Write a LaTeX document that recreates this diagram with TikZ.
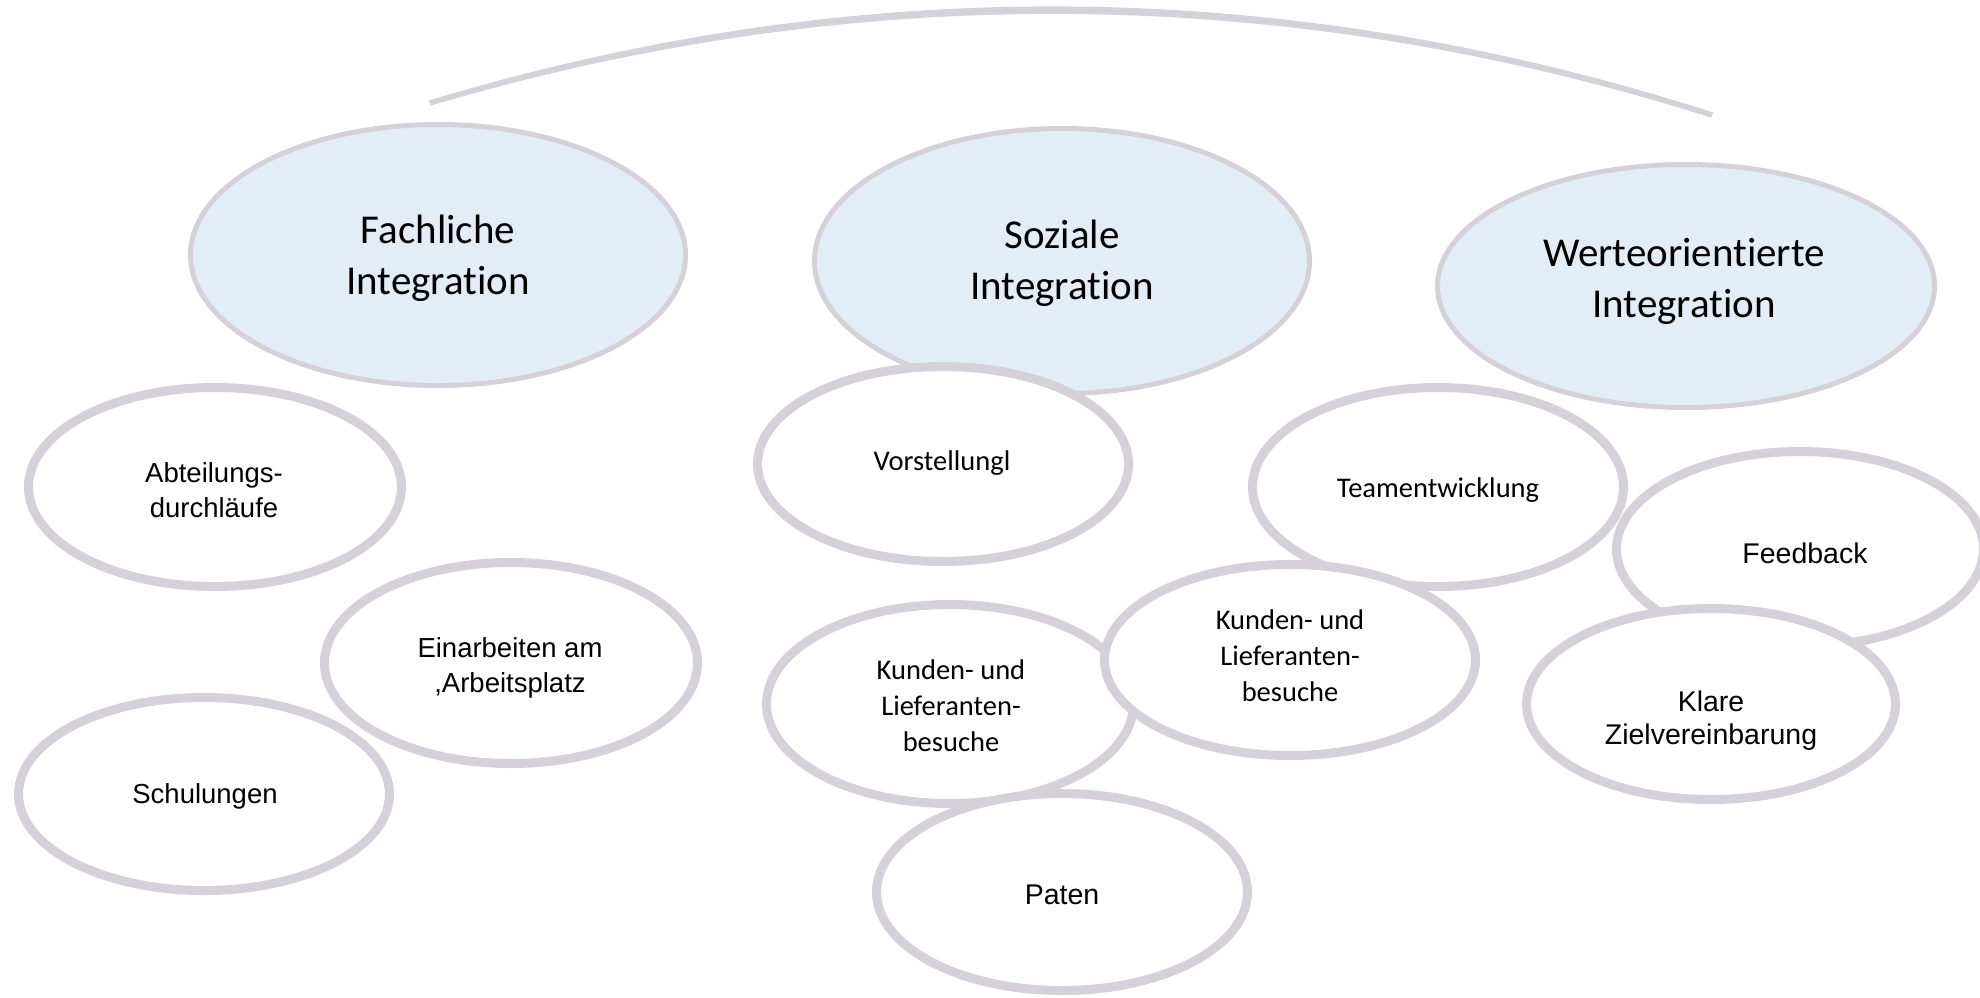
\documentclass[tikz,border=0pt]{standalone}
\usepackage{fontspec}
\setmainfont{Liberation Sans}
\newfontfamily\calibri[Ligatures=CommonOff]{Carlito}
\usetikzlibrary{shapes.geometric}
\definecolor{rim}{RGB}{214,209,217}
\definecolor{paleblue}{RGB}{227,237,248}
\definecolor{arcshade}{RGB}{160,158,165}

\begin{document}
\begin{tikzpicture}[x=1pt,y=-1pt,
  topoval/.style={ellipse, draw=rim, line width=5pt, fill=paleblue, inner sep=0pt},
  suboval/.style={ellipse, draw=rim, line width=9pt, fill=white, inner sep=0pt},
  headtext/.style={align=center, inner sep=0pt, font=\calibri\fontsize{41}{51}\selectfont},
  calitext/.style={align=center, inner sep=0pt, font=\calibri\fontsize{28.5}{36}\selectfont},
  arialtext/.style={align=center, inner sep=0pt, font=\fontsize{27.5}{35}\selectfont},
]
\useasboundingbox (0,0) rectangle (1980,997);

% sweeping arc over the three pillars
\coordinate (arcL) at (430,103);
\coordinate (arcR) at (1712,115);
\draw[arcshade, opacity=0.45, line width=5pt, shift={(1,3)}]
  (arcL) .. controls (858,-26) and (1285,-22) .. (arcR);
\draw[rim, line width=5.5pt]
  (arcL) .. controls (858,-26) and (1285,-22) .. (arcR);

% the three pillars
\node[topoval, minimum width=495, minimum height=261] (fach) at (438,255) {};
\node[headtext] (fach-t) at (438,258) {Fachliche\\Integration};
\node[topoval, minimum width=495, minimum height=265] (sozi) at (1062,261) {};
\node[headtext] (sozi-t) at (1062,263) {Soziale\\Integration};
\node[topoval, minimum width=497, minimum height=243] (wert) at (1686,286) {};
\node[headtext] (wert-t) at (1684,281) {Werteorientierte\\Integration};

% measures of the first pillar
\node[suboval, minimum width=373, minimum height=199] (abt) at (215,487) {};
\node[arialtext] (abt-t) at (214,490) {Abteilungs-\\durchläufe};
\node[suboval, minimum width=373, minimum height=201] (einarb) at (511,663) {};
\node[arialtext] (einarb-t) at (510,668) {Einarbeiten am\\,Arbeitsplatz};
\node[suboval, minimum width=371, minimum height=193] (schul) at (204,794) {};
\node[arialtext] (schul-t) at (205,796) {Schulungen};

% measures of the second pillar
\node[suboval, minimum width=371, minimum height=195] (vorst) at (943,464) {};
\node[calitext] (vorst-t) at (942,463) {Vorstellungl};
\node[suboval, minimum width=371, minimum height=199] (team) at (1438,487) {};
\node[calitext] (team-t) at (1438,490) {Teamentwicklung};
\node[suboval, minimum width=367, minimum height=199] (kundl) at (950,704) {};
\node[calitext] (kundl-t) at (951,706) {Kunden- und\\Lieferanten-\\besuche};
\node[suboval, minimum width=371, minimum height=191] (kundr) at (1290,660) {};
\node[calitext] (kundr-t) at (1290,656) {Kunden- und\\Lieferanten-\\besuche};
\node[suboval, minimum width=371, minimum height=197] (paten) at (1062,892) {};
\node[arialtext, font=\fontsize{28.5}{33}\selectfont] (paten-t) at (1062,895) {Paten};

% measures of the third pillar
\node[suboval, minimum width=367, minimum height=195] (feed) at (1800,549) {};
\node[arialtext, font=\fontsize{28.5}{33}\selectfont] (feed-t) at (1805,553) {Feedback};
\node[suboval, minimum width=369, minimum height=191] (klare) at (1711,704) {};
\node[arialtext, font=\fontsize{28.5}{33}\selectfont] (klare-t) at (1711,721) {Klare\\Zielvereinbarung};
\end{tikzpicture}
\end{document}
